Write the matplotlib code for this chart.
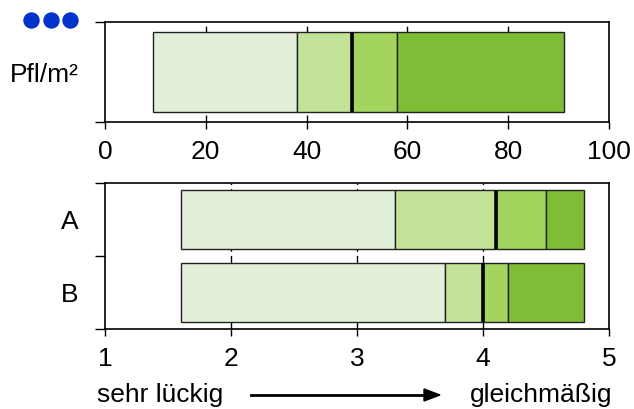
import matplotlib
matplotlib.use("Agg")
import matplotlib.pyplot as plt
from matplotlib.lines import Line2D

plt.rcParams['font.family'] = ['Liberation Sans', 'DejaVu Sans']

# Daten: Grenzen der Abschnitte (min, q1, median, q3, max)
pfl_label = ["Pfl/m²"]
pfl_werte = [[9.5, 38, 49, 58, 91]]
pfl_ticks = [0, 20, 40, 60, 80, 100]

sorten = ["A", "B"]
boden_werte = [[1.6, 3.3, 4.1, 4.5, 4.8],
               [1.6, 3.7, 4.0, 4.2, 4.8]]
boden_ticks = [1, 2, 3, 4, 5]

farben = ["#E2F0D9", "#C2E297", "#A2D45E", "#80BD37"]


def balken(ax, werte, pos):
    for w, y in zip(werte, pos):
        for i in range(4):
            ax.barh(y, w[i + 1] - w[i], left=w[i], height=0.8, color=farben[i],
                    edgecolor="#222222", linewidth=1, zorder=2)
        # Median als dicke Linie
        ax.plot([w[2], w[2]], [y - 0.4, y + 0.4], color="black", lw=2.6,
                solid_capstyle="butt", zorder=3)


def stil(ax, xticks, ylim):
    ax.set_xlim(xticks[0], xticks[-1])
    ax.set_xticks(xticks)
    ax.set_ylim(*ylim)
    # gestrichelte Gitterlinien nur innen
    for x in xticks[1:-1]:
        ax.axvline(x, linestyle=(0, (5, 3)), color="black", lw=1, zorder=0)
    ax.tick_params(axis="x", direction="out", length=5, width=1, labelsize=19, pad=8)
    ax.tick_params(axis="y", which="major", direction="out", length=7, width=1, labelleft=False)
    ax.tick_params(axis="y", which="minor", length=0, labelsize=19, pad=19)
    for s in ax.spines.values():
        s.set_linewidth(1.2)
        s.set_zorder(5)


fig = plt.figure(figsize=(6.34, 4.09), dpi=100)

ax1 = fig.add_axes([0.1656, 0.7017, 0.795, 0.2445])
balken(ax1, pfl_werte, [0.5])
stil(ax1, pfl_ticks, (0, 1))
ax1.set_yticks([0, 1])
ax1.set_yticks([0.5], minor=True)
ax1.set_yticklabels(pfl_label, minor=True)

ax2 = fig.add_axes([0.1656, 0.1956, 0.795, 0.357])
balken(ax2, boden_werte, [1, 0])
stil(ax2, boden_ticks, (-0.5, 1.5))
ax2.set_yticks([-0.5, 0.5, 1.5])
ax2.set_yticks([1, 0], minor=True)
ax2.set_yticklabels(sorten, minor=True)

# blaue Punkte oben links
fig.add_artist(Line2D([31 / 634, 51 / 634, 70 / 634], [1 - 20 / 409] * 3,
                      transform=fig.transFigure, marker="o", ms=10.8,
                      linestyle="none", color="#0033CC"))

# Skala-Beschriftung unten
fig.text(97 / 634, 1 - 395 / 409, "sehr lückig", fontsize=19, va="center", ha="left")
fig.text(612 / 634, 1 - 395 / 409, "gleichmäßig", fontsize=19, va="center", ha="right")
fig.add_artist(Line2D([251 / 634, 425 / 634], [1 - 395 / 409] * 2,
                      transform=fig.transFigure, color="black", lw=2))
fig.patches.append(plt.Polygon([[424 / 634, 1 - 389 / 409], [440 / 634, 1 - 395 / 409],
                                [424 / 634, 1 - 401 / 409]], closed=True,
                               transform=fig.transFigure, color="black", figure=fig))

fig.savefig("out.png", dpi=100)
